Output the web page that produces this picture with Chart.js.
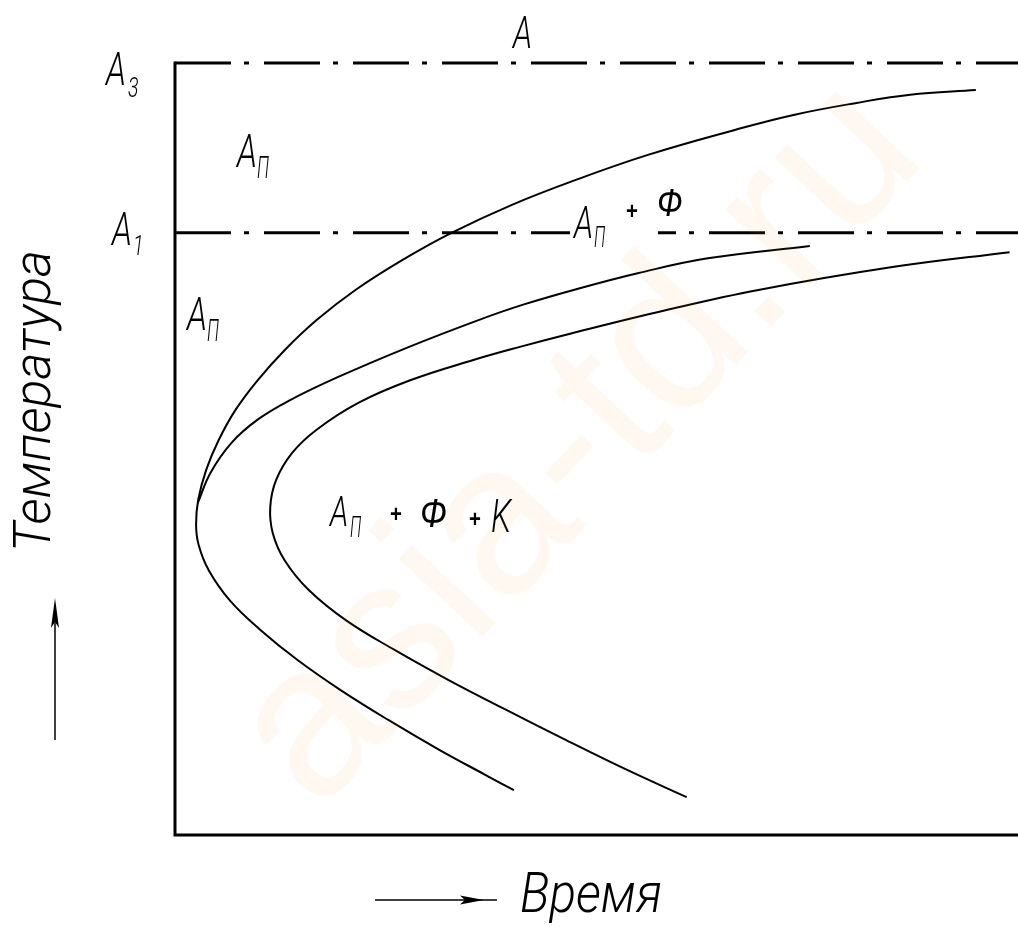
<!DOCTYPE html>
<html>
<head>
<meta charset="utf-8">
<script src="https://cdn.jsdelivr.net/npm/chart.js@4.4.0/dist/chart.umd.min.js"></script>
<style>
  html, body { margin: 0; padding: 0; background: #fff; }
  canvas { display: block; }
</style>
</head>
<body>
<canvas id="diagram" width="1018" height="927"></canvas>
<script>
// Isothermal decomposition of undercooled austenite: time (x) vs temperature (y),
// both in relative units 0..100.
const timeRange = [0, 100];
const tempRange = [0, 100];

// critical points
const temperatureA3 = 100;
const temperatureA1 = 78;

// start of decomposition (outer C-curve, upper and lower branch)
const startTime = [95.0, 87.2, 80.7, 73.5, 66.3, 56.1, 47.4, 39.9, 32.8, 27.0, 21.4, 16.8, 13.0, 9.8, 7.2, 5.2, 3.7, 2.75, 2.5, 2.8, 4.0, 6.5, 10.1, 14.5, 19.6, 25.3, 31.4, 36.8, 40.2];
const startTemp = [96.5, 95.9, 94.8, 93.3, 91.3, 88.1, 84.8, 81.6, 78.0, 74.5, 70.6, 66.7, 62.8, 58.9, 55.1, 51.2, 47.3, 43.4, 40.2, 37.6, 34.3, 30.4, 26.6, 22.7, 18.8, 14.9, 11.0, 7.8, 5.8];

// end of ferrite precipitation (joins the start curve at its nose)
const ferriteTime = [75.3, 63.2, 55.0, 47.6, 41.3, 36.0, 27.7, 19.3, 13.6, 9.8, 6.7, 4.2, 2.7];
const ferriteTemp = [76.3, 74.7, 72.8, 70.7, 68.7, 66.7, 63.2, 59.3, 56.3, 53.8, 50.8, 46.9, 43.0];

// end of decomposition (inner C-curve)
const finishTime = [99.0, 85.3, 69.2, 58.3, 47.1, 40.8, 35.3, 27.9, 21.8, 16.8, 13.9, 12.0, 11.3, 11.6, 13.0, 15.9, 20.3, 26.0, 32.4, 39.3, 46.4, 53.7, 60.7];
const finishTemp = [75.5, 73.6, 70.6, 68.0, 65.0, 63.2, 61.5, 58.9, 56.0, 52.5, 49.5, 46.0, 42.5, 39.1, 35.6, 31.7, 27.8, 24.0, 20.1, 16.2, 12.3, 8.4, 4.9];

const INK = '#000';
const CHAIN_DASH = [56, 13, 5, 15];
const LIGHT_FONT = 'Roboto, "DejaVu Sans", sans-serif';

function points(xs, ys) {
  return xs.map((x, i) => ({ x: x, y: ys[i] }));
}

// Narrow, slanted drafting-style lettering
function letter(ctx, text, x, y, size, opts) {
  opts = opts || {};
  ctx.save();
  ctx.translate(x, y);
  if (opts.rotate) ctx.rotate(opts.rotate);
  ctx.font = (opts.font || ('italic 300 ' + size + 'px ' + LIGHT_FONT));
  let sx = opts.sx || 0.75;
  if (opts.width) sx = opts.width / ctx.measureText(text).width;
  ctx.scale(sx, 1);
  ctx.fillStyle = INK;
  ctx.textBaseline = 'alphabetic';
  ctx.textAlign = 'left';
  ctx.fillText(text, 0, 0);
  ctx.restore();
}

function arrowHead(ctx, tipX, tipY, dirX, dirY, len, half) {
  const nx = -dirY, ny = dirX;
  const bx = tipX - dirX * len, by = tipY - dirY * len;
  ctx.beginPath();
  ctx.moveTo(tipX, tipY);
  ctx.lineTo(bx + nx * half, by + ny * half);
  ctx.lineTo(tipX - dirX * len * 0.8, tipY - dirY * len * 0.8);
  ctx.lineTo(bx - nx * half, by - ny * half);
  ctx.closePath();
  ctx.fill();
}

// Axis frame (left and bottom edges of the plot)
const frame = {
  id: 'frame',
  beforeDatasetsDraw(chart) {
    const { ctx } = chart;
    const x = chart.scales.x, y = chart.scales.y;
    const x0 = x.getPixelForValue(timeRange[0]);
    const x1 = x.getPixelForValue(timeRange[1]);
    const y0 = y.getPixelForValue(tempRange[0]);
    const y1 = y.getPixelForValue(tempRange[1]);
    ctx.save();
    ctx.strokeStyle = INK;
    ctx.lineWidth = 3;
    ctx.lineCap = 'square';
    ctx.beginPath();
    ctx.moveTo(x0, y1);
    ctx.lineTo(x0, y0);
    ctx.lineTo(x1 + 2, y0);
    ctx.stroke();
    ctx.restore();
  }
};

// Region names, critical points, axis titles and arrows
const annotations = {
  id: 'annotations',
  afterDatasetsDraw(chart) {
    const { ctx } = chart;
    const yA1 = chart.scales.y.getPixelForValue(temperatureA1);

    // clear the A1 line behind its label
    ctx.save();
    ctx.fillStyle = '#fff';
    ctx.fillRect(570, yA1 - 4, 88, 8);
    ctx.restore();

    // critical points
    letter(ctx, 'A', 106, 85, 46, { sx: 0.72 });
    letter(ctx, '3', 128, 97, 28, { sx: 0.7 });
    letter(ctx, 'A', 112, 245, 46, { sx: 0.72 });
    letter(ctx, '1', 133, 255, 28, { sx: 0.7 });
    letter(ctx, 'A', 513, 48, 44, { sx: 0.72 });

    // undercooled austenite
    letter(ctx, 'A', 237, 167, 46, { sx: 0.72 });
    letter(ctx, 'П', 257, 178, 32, { sx: 0.55 });
    letter(ctx, 'A', 187, 330, 46, { sx: 0.72 });
    letter(ctx, 'П', 207, 341, 32, { sx: 0.55 });

    // austenite + ferrite
    letter(ctx, 'A', 574, 238, 44, { sx: 0.72 });
    letter(ctx, 'П', 594, 247, 30, { sx: 0.55 });
    letter(ctx, '+', 626, 219, 24, { font: 'bold 24px "Liberation Sans", sans-serif', sx: 0.85 });
    letter(ctx, 'Ф', 657, 216, 38, { font: 'italic 500 38px "Liberation Sans", sans-serif', sx: 0.85 });

    // austenite + ferrite + carbide
    letter(ctx, 'A', 330, 526, 42, { sx: 0.72 });
    letter(ctx, 'П', 350, 537, 30, { sx: 0.55 });
    letter(ctx, '+', 390, 522, 24, { font: 'bold 24px "Liberation Sans", sans-serif', sx: 0.85 });
    letter(ctx, 'Ф', 420, 527, 40, { font: 'italic 500 40px "Liberation Sans", sans-serif', sx: 0.85 });
    letter(ctx, '+', 469, 527, 24, { font: 'bold 24px "Liberation Sans", sans-serif', sx: 0.85 });
    letter(ctx, 'K', 491, 532, 46, { sx: 0.72 });

    // axis titles
    letter(ctx, 'Время', 520, 912, 56, { width: 142 });
    letter(ctx, 'Температура', 50, 552, 52, { width: 302, rotate: -Math.PI / 2 });

    // axis arrows
    ctx.save();
    ctx.strokeStyle = INK;
    ctx.fillStyle = INK;
    ctx.lineWidth = 1.5;
    ctx.beginPath();
    ctx.moveTo(55, 740);
    ctx.lineTo(55, 606);
    ctx.stroke();
    arrowHead(ctx, 55, 598, 0, -1, 30, 4);
    ctx.beginPath();
    ctx.moveTo(375, 900);
    ctx.lineTo(497, 900);
    ctx.stroke();
    arrowHead(ctx, 484, 900, 1, 0, 24, 4.5);
    ctx.restore();
  },
  afterDraw(chart) {
    // site watermark
    const { ctx } = chart;
    ctx.save();
    ctx.globalAlpha = 0.065;
    ctx.fillStyle = '#f59a30';
    ctx.translate(580, 445);
    ctx.rotate(-47 * Math.PI / 180);
    ctx.font = '215px "Liberation Sans", Arial, sans-serif';
    ctx.textAlign = 'center';
    ctx.textBaseline = 'middle';
    ctx.fillText('asia-td.ru', 0, 0);
    ctx.restore();
  }
};

const curveStyle = {
  borderColor: INK,
  borderWidth: 2,
  pointRadius: 0,
  tension: 0.4,
  cubicInterpolationMode: 'default',
  capBezierPoints: false,
  fill: false,
  clip: false
};

const chainStyle = {
  borderColor: INK,
  borderWidth: 3,
  borderDash: CHAIN_DASH,
  pointRadius: 0,
  tension: 0,
  fill: false,
  clip: false
};

new Chart(document.getElementById('diagram'), {
  type: 'line',
  data: {
    datasets: [
      Object.assign({ label: 'A3', data: points(timeRange, [temperatureA3, temperatureA3]) }, chainStyle),
      Object.assign({ label: 'A1', data: points(timeRange, [temperatureA1, temperatureA1]) }, chainStyle),
      Object.assign({ label: 'начало распада', data: points(startTime, startTemp) }, curveStyle),
      Object.assign({ label: 'конец выделения феррита', data: points(ferriteTime, ferriteTemp) }, curveStyle),
      Object.assign({ label: 'конец распада', data: points(finishTime, finishTemp) }, curveStyle)
    ]
  },
  options: {
    responsive: false,
    animation: false,
    events: [],
    spanGaps: true,
    layout: { padding: { left: 175, right: 0, top: 63, bottom: 92 } },
    scales: {
      x: { type: 'linear', min: timeRange[0], max: timeRange[1], display: false },
      y: { type: 'linear', min: tempRange[0], max: tempRange[1], display: false }
    },
    plugins: {
      legend: { display: false },
      tooltip: { enabled: false }
    }
  },
  plugins: [frame, annotations]
});
</script>
</body>
</html>
